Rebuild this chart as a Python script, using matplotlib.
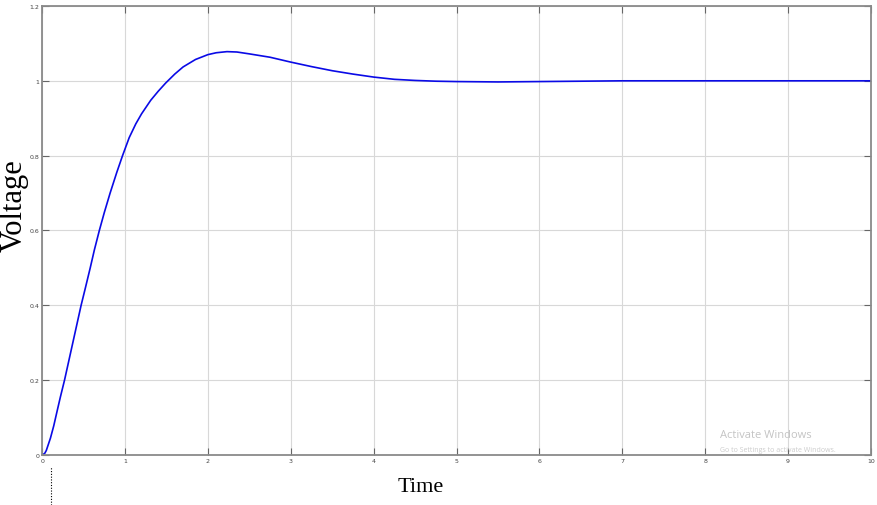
import matplotlib
matplotlib.use('Agg')
import matplotlib.pyplot as plt
from matplotlib.lines import Line2D

# step response (time, voltage)
t = [0, 0.03, 0.05, 0.1, 0.14, 0.175, 0.22, 0.27, 0.32, 0.37, 0.42, 0.47, 0.52,
     0.58, 0.63, 0.69, 0.75, 0.82, 0.9, 0.97, 1.05, 1.13, 1.2, 1.31, 1.4, 1.49,
     1.6, 1.7, 1.85, 2.0, 2.1, 2.23, 2.35, 2.5, 2.75, 3.0, 3.25, 3.5, 3.75,
     4.0, 4.25, 4.5, 4.75, 5.0, 5.5, 6.0, 6.5, 7.0, 8.0, 9.0, 10.0]
v = [0, 0.004, 0.012, 0.045, 0.078, 0.112, 0.155, 0.2, 0.25, 0.30, 0.35, 0.4, 0.445,
     0.5, 0.548, 0.6, 0.648, 0.70, 0.755, 0.8, 0.848, 0.885, 0.912, 0.948, 0.972, 0.994,
     1.018, 1.037, 1.057, 1.07, 1.075, 1.078, 1.077, 1.072, 1.063, 1.050, 1.038, 1.027, 1.018,
     1.010, 1.004, 1.001, 0.999, 0.998, 0.997, 0.998, 0.999, 1.0, 1.0, 1.0, 1.0]

xticks = list(range(0, 11))
yticks = [0, 0.2, 0.4, 0.6, 0.8, 1, 1.2]
ylabs = ['0', '0.2', '0.4', '0.6', '0.8', '1', '1.2']

fig = plt.figure(figsize=(8.78, 5.06), dpi=100)
ax = fig.add_axes([0.048, 0.0988, 0.944, 0.8874])

ax.plot(t, v, color='#0a0ae6', lw=1.2)

ax.set_xlim(0, 10)
ax.set_ylim(0, 1.2)
ax.set_xticks(xticks)
ax.set_xticklabels([str(x) for x in xticks])
ax.set_yticks(yticks)
ax.set_yticklabels(ylabs)
ax.grid(True, color='#d8d8d8', lw=0.8)
ax.set_axisbelow(True)
ax.tick_params(direction='in', length=5, width=0.8, color='#666666',
               labelsize=4.5, labelcolor='#444444', pad=2,
               top=True, right=True)
for s in ax.spines.values():
    s.set_color('#8a8a8a')
    s.set_linewidth(1.3)

fig.text(0.0165, 0.593, 'Voltage', rotation=90, ha='center', va='center',
         family='Liberation Serif', fontsize=22)
fig.text(0.4795, 0.0375, 'Time', ha='center', va='center',
         family='Liberation Serif', fontsize=16)

# dotted marker below the axes
fig.add_artist(Line2D([0.058, 0.058], [0.0, 0.075], transform=fig.transFigure,
                      color='black', lw=0.8, ls=(0, (1, 1.5))))

# watermark
fig.text(0.82, 0.14, 'Activate Windows', color='#c4c4c4', fontsize=8,
         family='Open Sans', ha='left', va='center')
fig.text(0.82, 0.11, 'Go to Settings to activate Windows.', color='#cccccc',
         fontsize=5, family='Open Sans', ha='left', va='center')

fig.savefig('out.png', dpi=100)
